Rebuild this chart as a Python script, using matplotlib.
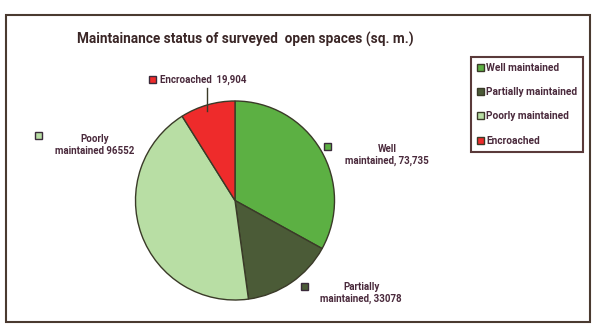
import matplotlib.pyplot as plt
from matplotlib.patches import Rectangle

# === DATA ===
categories = ['Well maintained', 'Partially maintained', 'Poorly maintained', 'Encroached']
areas = [73735, 33078, 96552, 19904]
label_text = ['Well\nmaintained, 73,735', 'Partially\nmaintained, 33078',
              'Poorly\nmaintained 96552', 'Encroached  19,904']
colors = ['#5cb043', '#4b5b37', '#b8dea4', '#ee2b2b']
title = 'Maintainance status of surveyed  open spaces (sq. m.)'

TXT = '#4a2a3c'
plt.rcParams['font.family'] = ['Roboto', 'DejaVu Sans']

W, H = 595, 324
fig = plt.figure(figsize=(W / 100, H / 100), dpi=100)

def fx(px):
    return px / W

def fy(py):
    return 1 - py / H

# outer frame
fig.add_artist(Rectangle((fx(6), fy(322)), fx(590) - fx(6), fy(15) - fy(322),
                         transform=fig.transFigure, fill=False,
                         edgecolor='#4a3a30', linewidth=1.5))

# pie
ax = fig.add_axes([fx(134), fy(301), fx(336) - fx(134), fy(100) - fy(301)])
wedges, _ = ax.pie(areas, colors=colors, startangle=90, counterclock=False,
                   wedgeprops=dict(edgecolor='#3a3a28', linewidth=1.0))
ax.set_xlim(-1.01, 1.01)
ax.set_ylim(-1.01, 1.01)

fig.text(fx(245), fy(39), title, ha='center', va='center', fontsize=9.8,
         fontweight='bold', color='#3a2626')

# data labels: (marker x, marker y, text center x, text y, align)
label_pos = [(328, 147, 387, 155, 'center'),
             (304, 286, 361, 293, 'center'),
             (38, 135, 95, 145, 'center'),
             (152, 80, 160, 80, 'left')]
for (mx, my, tx, ty, al), txt, c in zip(label_pos, label_text, colors):
    fig.add_artist(Rectangle((fx(mx - 3.5), fy(my + 3.5)), fx(7), 7 / H,
                             transform=fig.transFigure, facecolor=c,
                             edgecolor='#3a2a3a', linewidth=1.0))
    fig.text(fx(tx), fy(ty), txt, ha=al, va='center', fontsize=7,
             fontweight='bold', color=TXT, linespacing=1.15)

# leader line for encroached
fig.add_artist(plt.Line2D([fx(207), fx(207)], [fy(88), fy(111)],
                          transform=fig.transFigure, color='#3a3a28', linewidth=1))

leg = fig.legend(wedges, categories, loc='upper left',
                 bbox_to_anchor=(fx(471), fy(57)), fontsize=7.3,
                 handlelength=0.7, handleheight=0.7, handletextpad=0.2,
                 labelspacing=1.4, borderpad=0.6, fancybox=False,
                 framealpha=1, edgecolor='#5a3a3a', borderaxespad=0)
leg.get_frame().set_linewidth(1.5)
for t in leg.get_texts():
    t.set_color(TXT)
    t.set_fontweight('bold')

plt.savefig('out.png', dpi=100)
